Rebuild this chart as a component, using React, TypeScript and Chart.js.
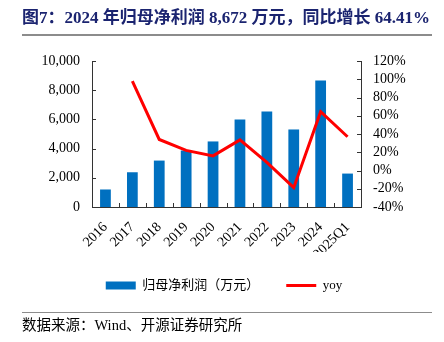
import React, { useEffect, useRef } from "react";
import { Chart, registerables } from "chart.js";

Chart.register(...registerables);

const categories = ["2016", "2017", "2018", "2019", "2020", "2021", "2022", "2023", "2024", "2025Q1"];
const netProfit = [1200, 2380, 3180, 3870, 4490, 5990, 6540, 5310, 8672, 2290];
const yoy = [null, 98, 34, 22, 16, 33.5, 9, -18.8, 64.41, 37];
const leftTicks = [0, 2000, 4000, 6000, 8000, 10000];
const rightTicks = [-40, -20, 0, 20, 40, 60, 80, 100, 120];

const SERIF = "'Liberation Serif', 'Noto Sans CJK SC', serif";
const AXIS_COLOR = "#333333";

const inwardTicks = {
  id: "inwardTicks",
  afterDraw(chart: any) {
    const ctx = chart.ctx;
    const area = chart.chartArea;
    const x = chart.scales.x;
    const y = chart.scales.y;
    const y1 = chart.scales.y1;
    ctx.save();
    ctx.strokeStyle = AXIS_COLOR;
    ctx.lineWidth = 1;
    ctx.beginPath();
    y.ticks.forEach((t: any) => {
      const py = Math.round(y.getPixelForValue(t.value)) + 0.5;
      ctx.moveTo(area.left, py);
      ctx.lineTo(area.left + 4, py);
    });
    y1.ticks.forEach((t: any) => {
      const py = Math.round(y1.getPixelForValue(t.value)) + 0.5;
      ctx.moveTo(area.right, py);
      ctx.lineTo(area.right - 4, py);
    });
    const n = categories.length;
    for (let i = 1; i < n; i++) {
      const px = Math.round((x.getPixelForTick(i - 1) + x.getPixelForTick(i)) / 2) + 0.5;
      ctx.moveTo(px, area.bottom);
      ctx.lineTo(px, area.bottom - 4);
    }
    ctx.stroke();
    ctx.restore();
  },
};

export default function App() {
  const ref = useRef<HTMLCanvasElement | null>(null);

  useEffect(() => {
    document.body.style.margin = "0";
    const canvas = ref.current;
    if (!canvas) return;
    const chart = new Chart(canvas, {
      type: "bar",
      data: {
        labels: categories,
        datasets: [
          {
            type: "line",
            label: "yoy",
            data: yoy as any,
            yAxisID: "y1",
            borderColor: "#FF0000",
            backgroundColor: "#FF0000",
            borderWidth: 3,
            pointRadius: 0,
            tension: 0,
            order: 1,
          } as any,
          {
            type: "bar",
            label: "归母净利润（万元）",
            data: netProfit,
            yAxisID: "y",
            backgroundColor: "#0070C0",
            barPercentage: 0.4,
            categoryPercentage: 1,
            order: 2,
          },
        ],
      },
      options: {
        responsive: false,
        animation: false,
        layout: { padding: { top: 61, left: 4, right: 0, bottom: 40 } },
        plugins: {
          tooltip: { enabled: false },
          legend: {
            position: "bottom",
            reverse: true,
            labels: {
              usePointStyle: true,
              pointStyleWidth: 30,
              boxHeight: 8,
              padding: 27,
              color: "#000",
              font: { family: SERIF, size: 13 },
              generateLabels: (c: any) => {
                const items = Chart.defaults.plugins.legend.labels.generateLabels(c);
                items.forEach((it: any) => {
                  if (it.text === "yoy") {
                    it.pointStyle = "line";
                    it.lineWidth = 3;
                    it.strokeStyle = "#FF0000";
                  } else {
                    it.pointStyle = "rect";
                    it.lineWidth = 0;
                    it.fillStyle = "#0070C0";
                    it.strokeStyle = "#0070C0";
                  }
                });
                return items;
              },
            },
          },
        },
        scales: {
          x: {
            grid: { display: false },
            border: { display: true, color: AXIS_COLOR, width: 1 },
            ticks: {
              maxRotation: 45,
              minRotation: 45,
              autoSkip: false,
              padding: 4,
              color: "#000",
              font: { family: SERIF, size: 14 },
            },
            afterFit: (s: any) => {
              s.height = 45;
            },
          },
          y: {
            position: "left",
            min: 0,
            max: 10000,
            grid: { display: false, drawTicks: false },
            border: { display: true, color: AXIS_COLOR, width: 1 },
            afterBuildTicks: (s: any) => {
              s.ticks = leftTicks.map((v) => ({ value: v }));
            },
            ticks: {
              autoSkip: false,
              padding: 12,
              color: "#000",
              font: { family: SERIF, size: 14 },
              callback: (v: any) => Number(v).toLocaleString("en-US"),
            },
            afterFit: (s: any) => {
              s.width = 88;
            },
          },
          y1: {
            position: "right",
            min: -40,
            max: 120,
            grid: { display: false, drawTicks: false },
            border: { display: true, color: AXIS_COLOR, width: 1 },
            afterBuildTicks: (s: any) => {
              s.ticks = rightTicks.map((v) => ({ value: v }));
            },
            ticks: {
              autoSkip: false,
              padding: 12,
              color: "#000",
              font: { family: SERIF, size: 14 },
              callback: (v: any) => v + "%",
            },
            afterFit: (s: any) => {
              s.width = 83;
            },
          },
        },
      },
      plugins: [inwardTicks],
    });
    return () => chart.destroy();
  }, []);

  return (
    <div style={{ position: "relative", width: 444, height: 342, background: "#fff", overflow: "hidden" }}>
      <canvas ref={ref} width={444} height={342} style={{ position: "absolute", left: 0, top: 0 }} />
      <div
        style={{
          position: "absolute",
          left: 22,
          top: 7,
          whiteSpace: "nowrap",
          fontFamily: SERIF,
          fontWeight: "bold",
          fontSize: 17,
          lineHeight: "22px",
          color: "#1B2470",
        }}
      >
        图7：2024 年归母净利润 8,672 万元，同比增长 64.41%
      </div>
      <div style={{ position: "absolute", left: 22, top: 34, width: 410, height: 2, background: "#8C8C8C" }} />
      <div style={{ position: "absolute", left: 22, top: 312, width: 410, height: 1, background: "#8C8C8C" }} />
      <div
        style={{
          position: "absolute",
          left: 22,
          top: 316,
          whiteSpace: "nowrap",
          fontFamily: SERIF,
          fontSize: 14.5,
          lineHeight: "18px",
          color: "#000",
        }}
      >
        数据来源：Wind、开源证券研究所
      </div>
    </div>
  );
}
